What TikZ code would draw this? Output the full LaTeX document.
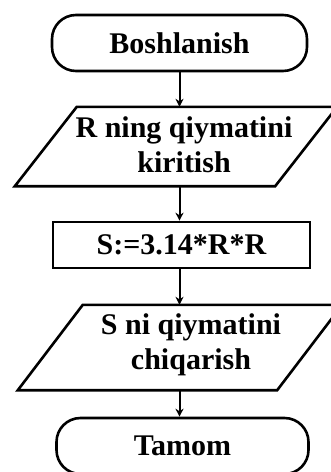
\documentclass[tikz,border=0pt]{standalone}
\usepackage{fontspec}
\setmainfont{Liberation Serif}
\usetikzlibrary{arrows.meta}
\begin{document}
\begin{tikzpicture}[x=1pt,y=-1pt,
  txt/.style={font=\fontsize{30}{35}\selectfont\bfseries, align=center, inner sep=0pt},
  term/.style={txt, draw, line width=2.6pt, rounded corners=24pt, minimum width=#1, minimum height=56pt},
  procbox/.style={txt, draw, line width=2.6pt, minimum width=257pt, minimum height=46pt},
  iobox/.style={shape=rectangle, inner sep=0pt, minimum width=#1},
  ioline/.style={line width=2.6pt, line join=miter},
  arr/.style={line width=2pt, -{Stealth[length=8pt,width=8pt]}}]
\useasboundingbox (0,0) rectangle (330,472);

% start
\node[term=255pt] (start) at (179.5,43) {Boshlanish};

% input parallelogram
\node[iobox=322pt, minimum height=79pt] (in1) at (176,146.5) {};
\draw[ioline] ([xshift=62pt]in1.north west) -- (in1.north east)
  -- ([xshift=-62pt]in1.south east) -- (in1.south west) -- cycle;
\node[txt] (in1t) at (184,145) {R ning qiymatini\\kiritish};

% process
\node[procbox] (calc) at (181.5,245) {S:=3.14*R*R};

% output parallelogram
\node[iobox=324pt, minimum height=85pt] (out1) at (180,347.5) {};
\draw[ioline] ([xshift=65pt]out1.north west) -- (out1.north east)
  -- ([xshift=-65pt]out1.south east) -- (out1.south west) -- cycle;
\node[txt] (out1t) at (191,345) {S ni qiymatini\\chiqarish};

% end
\node[term=252pt] (stop) at (182.5,446) {Tamom};

% connectors
\draw[arr] (start.south) -- (start.south |- in1.north);
\draw[arr] (in1.south -| start.south) -- (calc.north -| start.south);
\draw[arr] (calc.south -| start.south) -- (out1.north -| start.south);
\draw[arr] (out1.south -| start.south) -- (stop.north -| start.south);
\end{tikzpicture}
\end{document}
